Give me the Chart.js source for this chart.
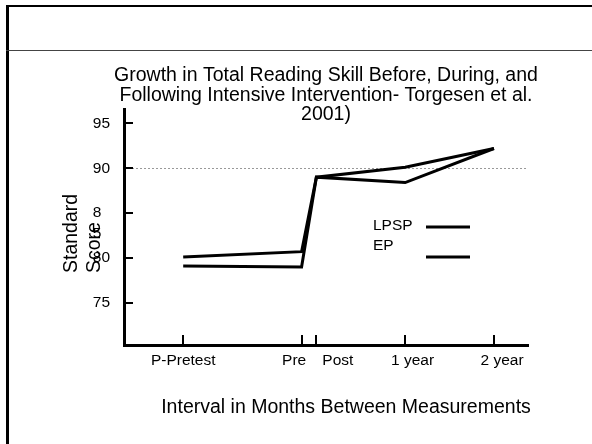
<!DOCTYPE html>
<html>
<head>
<meta charset="utf-8">
<title>Growth in Total Reading Skill</title>
<script src="https://cdn.jsdelivr.net/npm/chart.js@4.4.0/dist/chart.umd.min.js"></script>
<style>
html, body { margin: 0; padding: 0; background: #fff; }
canvas { display: block; }
</style>
</head>
<body>
<canvas id="chart" width="592" height="444"></canvas>
<script>
var titleLines = ['Growth in Total Reading Skill Before, During, and', 'Following Intensive Intervention- Torgesen et al.', '2001)'];
var xTitle = 'Interval in Months Between Measurements';
var yTitle = ['Standard', 'Score'];

// months since the first test
var months = [0, 16, 18, 30, 42];
var intervals = ['P-Pretest', 'Pre', 'Post', '1 year', '2 year'];
// labels sit a little off their ticks in the original
var intervalLabelAt = [0, 15, 20.9, 31, 43.1];

var lpsp = [80.1, 80.7, 89.0, 90.1, 92.2];
var ep = [79.1, 79.0, 89.0, 88.4, 92.2];
var scoreTicks = [75, 80, 85, 90, 95];
var refLine = 90;

var FONT = '"Liberation Sans", Arial, sans-serif';

function points(ys) {
    return months.map(function(m, i) { return {x: m, y: ys[i]}; });
}

var decor = {
    id: 'decor',
    beforeDraw: function(chart) {
        var ctx = chart.ctx;
        ctx.save();
        ctx.fillStyle = '#fff';
        ctx.fillRect(0, 0, chart.width, chart.height);
        ctx.strokeStyle = '#000';
        ctx.lineWidth = 2;
        ctx.beginPath(); ctx.moveTo(6, 6); ctx.lineTo(592, 6); ctx.stroke();
        ctx.lineWidth = 3;
        ctx.beginPath(); ctx.moveTo(7.5, 5); ctx.lineTo(7.5, 444); ctx.stroke();
        ctx.strokeStyle = '#444';
        ctx.lineWidth = 1;
        ctx.beginPath(); ctx.moveTo(6, 50.5); ctx.lineTo(592, 50.5); ctx.stroke();
        ctx.restore();
    },
    beforeDatasetsDraw: function(chart) {
        var ctx = chart.ctx, area = chart.chartArea;
        var y = Math.round(chart.scales.y.getPixelForValue(refLine)) + 0.5;
        ctx.save();
        ctx.strokeStyle = '#999';
        ctx.lineWidth = 1;
        ctx.setLineDash([2, 2]);
        ctx.beginPath(); ctx.moveTo(area.left, y); ctx.lineTo(area.right, y); ctx.stroke();
        ctx.restore();
    },
    afterDraw: function(chart) {
        var ctx = chart.ctx, area = chart.chartArea;
        var xs = chart.scales.x, ys = chart.scales.y;
        ctx.save();
        // inward tick marks
        ctx.strokeStyle = '#000';
        ctx.lineWidth = 2;
        scoreTicks.forEach(function(v) {
            var p = Math.round(ys.getPixelForValue(v));
            ctx.beginPath(); ctx.moveTo(area.left, p); ctx.lineTo(area.left + 9, p); ctx.stroke();
        });
        months.forEach(function(m) {
            var p = Math.round(xs.getPixelForValue(m));
            ctx.beginPath(); ctx.moveTo(p, area.bottom); ctx.lineTo(p, area.bottom - 10); ctx.stroke();
        });

        ctx.fillStyle = '#000';
        // title
        ctx.font = '19.5px ' + FONT;
        ctx.textAlign = 'center';
        ctx.textBaseline = 'middle';
        var cx = (area.left + area.right) / 2;
        titleLines.forEach(function(t, i) { ctx.fillText(t, cx, 76 + i * 19.5); });
        // x title
        ctx.fillText(xTitle, 346, 408);
        // y title
        ctx.textAlign = 'left';
        yTitle.forEach(function(t, i) {
            ctx.save();
            ctx.translate(72 + i * 23, 273);
            ctx.rotate(-Math.PI / 2);
            ctx.fillText(t, 0, 0);
            ctx.restore();
        });
        // legend
        ctx.font = '15.5px ' + FONT;
        var lineY = [227, 257];
        chart.data.datasets.forEach(function(ds, i) {
            ctx.fillText(ds.label, 373, 226 + i * 20);
            ctx.strokeStyle = ds.borderColor;
            ctx.lineWidth = 3;
            ctx.beginPath(); ctx.moveTo(426, lineY[i]); ctx.lineTo(470, lineY[i]); ctx.stroke();
        });
        ctx.restore();
    }
};

new Chart(document.getElementById('chart'), {
    type: 'line',
    data: {
        datasets: [
            { label: 'LPSP', data: points(lpsp), borderColor: '#000', borderWidth: 3, pointRadius: 0, tension: 0, fill: false },
            { label: 'EP', data: points(ep), borderColor: '#000', borderWidth: 3, pointRadius: 0, tension: 0, fill: false }
        ]
    },
    options: {
        responsive: false,
        animation: false,
        events: [],
        layout: { padding: { left: 0, top: 109, right: 64, bottom: 0 } },
        plugins: { legend: { display: false }, title: { display: false }, tooltip: { enabled: false } },
        scales: {
            x: {
                type: 'linear',
                min: -8,
                max: 46.6,
                afterBuildTicks: function(scale) {
                    scale.ticks = intervalLabelAt.map(function(v) { return {value: v}; });
                },
                afterFit: function(scale) { scale.height = 99; },
                grid: { display: false },
                border: { display: true, color: '#000', width: 3 },
                ticks: {
                    autoSkip: false,
                    minRotation: 0,
                    maxRotation: 0,
                    padding: -2,
                    color: '#000',
                    font: { family: FONT, size: 15.5 },
                    callback: function(v) {
                        var i = intervalLabelAt.indexOf(v);
                        return i < 0 ? '' : intervals[i];
                    }
                }
            },
            y: {
                min: 70.3,
                max: 96.6,
                afterBuildTicks: function(scale) {
                    scale.ticks = scoreTicks.map(function(v) { return {value: v}; });
                },
                afterFit: function(scale) { scale.width = 124; },
                grid: { display: false },
                border: { display: true, color: '#000', width: 3 },
                ticks: {
                    autoSkip: false,
                    padding: 6,
                    color: '#000',
                    font: { family: FONT, size: 15.5, lineHeight: 1.3 },
                    callback: function(v) {
                        // the 85 label wraps in the original
                        return v === 85 ? ['', '8  ', '5  '] : String(v);
                    }
                }
            }
        }
    },
    plugins: [decor]
});
</script>
</body>
</html>
